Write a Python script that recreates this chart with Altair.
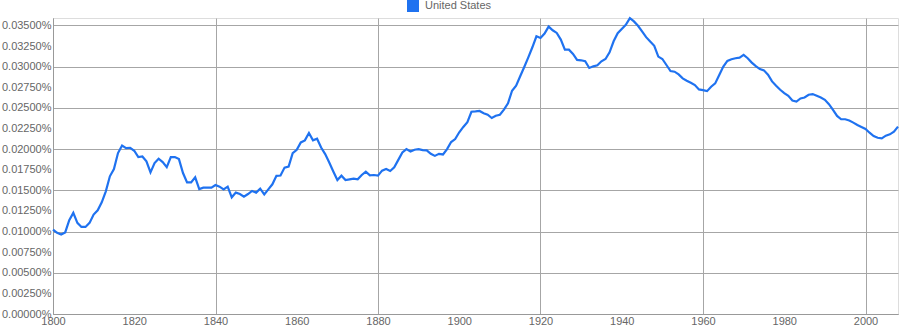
import altair as alt
import pandas as pd

years = list(range(1800, 2009))

# frequency in percent
values = [
    0.01024, 0.00984, 0.00964, 0.00990, 0.01137, 0.01226, 0.01105, 0.01056, 0.01056, 0.01105,  # 1800-1809
    0.01206, 0.01258, 0.01355, 0.01488, 0.01670, 0.01758, 0.01952, 0.02044, 0.02012, 0.02016,  # 1810-1819
    0.01980, 0.01903, 0.01911, 0.01851, 0.01718, 0.01830, 0.01883, 0.01843, 0.01782, 0.01903,  # 1820-1829
    0.01903, 0.01879, 0.01710, 0.01597, 0.01597, 0.01658, 0.01516, 0.01533, 0.01533, 0.01533,  # 1830-1839
    0.01565, 0.01545, 0.01512, 0.01545, 0.01415, 0.01472, 0.01455, 0.01423, 0.01455, 0.01492,  # 1840-1849
    0.01472, 0.01520, 0.01451, 0.01512, 0.01573, 0.01675, 0.01679, 0.01776, 0.01789, 0.01951,  # 1850-1859
    0.01992, 0.02081, 0.02106, 0.02195, 0.02106, 0.02126, 0.02020, 0.01939, 0.01837, 0.01728,  # 1860-1869
    0.01625, 0.01678, 0.01624, 0.01633, 0.01641, 0.01633, 0.01686, 0.01727, 0.01682, 0.01686,  # 1870-1879
    0.01678, 0.01739, 0.01759, 0.01735, 0.01780, 0.01869, 0.01959, 0.02000, 0.01971, 0.01992,  # 1880-1889
    0.02000, 0.01988, 0.01984, 0.01943, 0.01918, 0.01943, 0.01935, 0.02000, 0.02086, 0.02122,  # 1890-1899
    0.02204, 0.02269, 0.02327, 0.02453, 0.02457, 0.02463, 0.02435, 0.02417, 0.02377, 0.02405,  # 1900-1909
    0.02417, 0.02478, 0.02555, 0.02708, 0.02769, 0.02883, 0.02996, 0.03113, 0.03235, 0.03368,  # 1910-1919
    0.03348, 0.03401, 0.03486, 0.03441, 0.03409, 0.03328, 0.03206, 0.03206, 0.03154, 0.03081,  # 1920-1929
    0.03077, 0.03065, 0.02984, 0.03004, 0.03016, 0.03065, 0.03093, 0.03174, 0.03308, 0.03406,  # 1930-1939
    0.03458, 0.03508, 0.03589, 0.03549, 0.03496, 0.03427, 0.03358, 0.03305, 0.03252, 0.03122,  # 1940-1949
    0.03093, 0.03020, 0.02947, 0.02939, 0.02906, 0.02858, 0.02829, 0.02805, 0.02776, 0.02724,  # 1950-1959
    0.02715, 0.02703, 0.02756, 0.02797, 0.02898, 0.03000, 0.03069, 0.03089, 0.03102, 0.03110,  # 1960-1969
    0.03142, 0.03102, 0.03049, 0.03006, 0.02970, 0.02955, 0.02902, 0.02821, 0.02768, 0.02720,  # 1970-1979
    0.02679, 0.02646, 0.02589, 0.02577, 0.02614, 0.02626, 0.02659, 0.02667, 0.02646, 0.02626,  # 1980-1989
    0.02598, 0.02545, 0.02476, 0.02402, 0.02362, 0.02362, 0.02346, 0.02321, 0.02293, 0.02268,  # 1990-1999
    0.02244, 0.02199, 0.02159, 0.02138, 0.02130, 0.02163, 0.02179, 0.02211, 0.02272,           # 2000-2008
]

series_name = "United States"
x_ticks = list(range(1800, 2001, 20))
y_ticks = [i * 0.0025 for i in range(0, 15)]

df = pd.DataFrame({"year": years, "freq": values, "series": [series_name] * len(years)})

BLUE = "#1f72f0"
GRID = "#a6a6a6"
LABEL = "#666666"
FONT = "Liberation Sans"

chart = alt.Chart(df).mark_line(strokeWidth=2.2, color=BLUE).encode(
    x=alt.X(
        "year:Q",
        scale=alt.Scale(domain=[1800, 2008], nice=False, zero=False),
        axis=alt.Axis(
            values=x_ticks,
            format="d",
            title=None,
            ticks=False,
            labelPadding=1,
            labelFontSize=11,
            labelColor=LABEL,
            labelFont=FONT,
            domainColor="#999999",
            labelFlush=False,
            grid=True,
            gridColor=GRID,
            gridOpacity={"condition": {"test": "datum.value % 40 == 0", "value": 1}, "value": 0},
        ),
    ),
    y=alt.Y(
        "freq:Q",
        scale=alt.Scale(domain=[0, 0.0359], nice=False),
        axis=alt.Axis(
            values=y_ticks,
            labelExpr="format(datum.value, '.5f') + '%'",
            title=None,
            ticks=False,
            labelPadding=2,
            labelFontSize=11,
            labelColor=LABEL,
            labelFont=FONT,
            domainColor="#999999",
            labelFlush=False,
            grid=True,
            gridColor=GRID,
            gridOpacity={
                "condition": {
                    "test": "abs(datum.value / 0.005 - round(datum.value / 0.005)) < 0.01",
                    "value": 1,
                },
                "value": 0,
            },
        ),
    ),
    color=alt.Color(
        "series:N",
        scale=alt.Scale(range=[BLUE]),
        legend=alt.Legend(
            title=None,
            orient="none",
            legendX=354,
            legendY=-18,
            direction="horizontal",
            symbolType="square",
            symbolSize=144,
            symbolFillColor=BLUE,
            symbolStrokeColor=BLUE,
            symbolStrokeWidth=0,
            symbolOpacity=1,
            labelFontSize=11,
            labelColor=LABEL,
            labelFont=FONT,
            labelOffset=6,
        ),
    ),
).properties(
    width=845,
    height=296,
    autosize=alt.AutoSizeParams(type="none"),
    padding={"left": 53, "top": 18, "right": 2, "bottom": 16},
).configure_view(stroke=None).configure(background="white")

chart.save("out.html", embed_options={"renderer": "svg", "actions": False})
